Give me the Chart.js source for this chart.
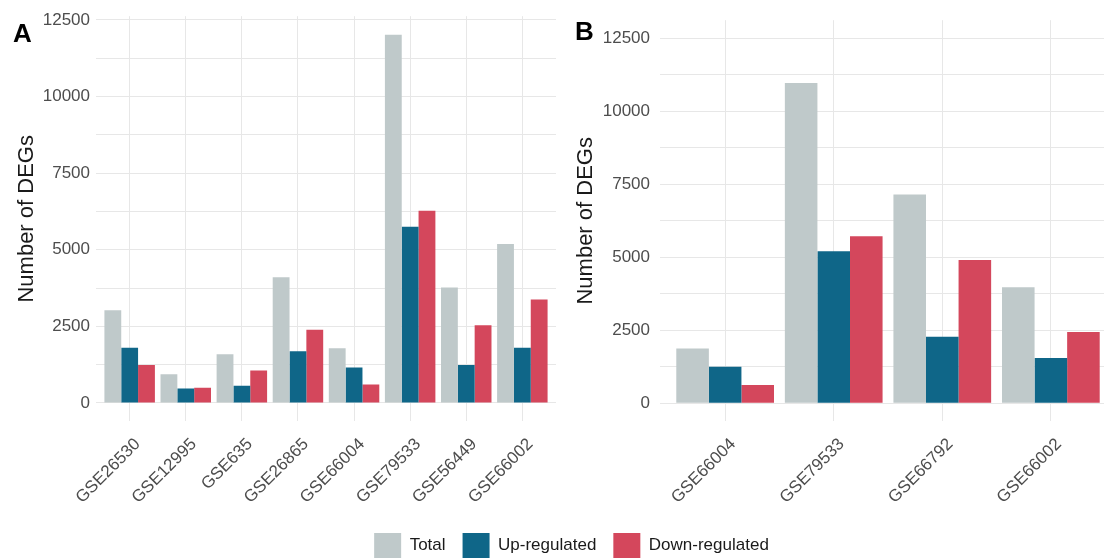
<!DOCTYPE html>
<html>
<head>
<meta charset="utf-8">
<title>Number of DEGs per dataset</title>
<script src="https://cdn.jsdelivr.net/npm/chart.js@4/dist/chart.umd.min.js"></script>
<style>
  html, body { margin: 0; padding: 0; background: #ffffff; }
  #fig { position: relative; width: 1104px; height: 560px; overflow: hidden; background: #ffffff; }
  #fig canvas { position: absolute; }
  .tag { position: absolute; font: bold 26px "Liberation Sans", Arial, sans-serif; line-height: 26px; color: #000; }
</style>
</head>
<body>
<div id="fig">
  <canvas id="panelA" width="560" height="560" style="left:0;top:0"></canvas>
  <canvas id="panelB" width="560" height="560" style="left:560px;top:0"></canvas>
  <canvas id="legendBar" width="1104" height="140" style="left:0;top:516px"></canvas>
  <div class="tag" style="left:13px;top:20px">A</div>
  <div class="tag" style="left:575px;top:18px">B</div>
</div>
<script>
// Series shared by both panels
const seriesNames = ['Total', 'Up-regulated', 'Down-regulated'];
const seriesColors = ['#bfc9ca', '#0f6688', '#d4475c'];

// Panel A: eight GEO datasets
const datasetsA = ['GSE26530', 'GSE12995', 'GSE635', 'GSE26865', 'GSE66004', 'GSE79533', 'GSE56449', 'GSE66002'];
const totalA = [3030, 940, 1590, 4100, 1790, 12020, 3770, 5190];
const upA    = [1800, 470,  560, 1690, 1160,  5750, 1240, 1800];
const downA  = [1240, 500, 1060, 2390,  600,  6270, 2540, 3380];

// Panel B: four GEO datasets
const datasetsB = ['GSE66004', 'GSE79533', 'GSE66792', 'GSE66002'];
const totalB = [1870, 10970, 7150, 3970];
const upB    = [1250,  5210, 2280, 1550];
const downB  = [ 620,  5720, 4910, 2440];

// Labelled y ticks; grid lines also sit half-way between them
const yTicks = [0, 2500, 5000, 7500, 10000, 12500];

const FONT = '"Liberation Sans", Arial, Helvetica, sans-serif';
const GRID = '#e7e7e7';
const TICK_COLOR = '#4d4d4d';

const gridValues = yTicks.flatMap((v, i) => i ? [(yTicks[i - 1] + v) / 2, v] : [v]);

function buildPanel(canvasId, cats, series, yMin, yMax, axisWidth, tickPad, titlePad) {
  return new Chart(document.getElementById(canvasId), {
    type: 'bar',
    data: {
      datasets: series.map((vals, k) => ({
        label: seriesNames[k],
        data: vals.map((v, i) => ({ x: i, y: v })),
        backgroundColor: seriesColors[k],
        borderWidth: 0,
        categoryPercentage: 0.9,
        barPercentage: 1.0
      }))
    },
    options: {
      responsive: false,
      animation: false,
      events: [],
      layout: { padding: { left: 0, right: 4, top: 16, bottom: 0 } },
      plugins: { legend: { display: false }, tooltip: { enabled: false } },
      scales: {
        x: {
          type: 'linear',
          min: -0.6,
          max: cats.length - 0.4,
          offset: false,
          afterBuildTicks: s => { s.ticks = cats.map((_, i) => ({ value: i })); },
          afterFit: s => { s.height = 560 - 421.4; },
          grid: { color: GRID, lineWidth: 1, drawTicks: false, offset: false },
          border: { display: false },
          ticks: {
            autoSkip: false,
            minRotation: 45,
            maxRotation: 45,
            padding: 13,
            labelOffset: 8,
            color: TICK_COLOR,
            font: { family: FONT, size: 17 },
            callback: v => cats[v]
          }
        },
        y: {
          min: yMin,
          max: yMax,
          afterBuildTicks: s => { s.ticks = gridValues.map(v => ({ value: v })); },
          afterFit: s => { s.width = axisWidth; },
          grid: { color: GRID, lineWidth: 1, drawTicks: false },
          border: { display: false },
          ticks: {
            padding: tickPad,
            color: TICK_COLOR,
            font: { family: FONT, size: 17 },
            callback: v => yTicks.includes(v) ? String(v) : ''
          },
          title: {
            display: true,
            text: 'Number of DEGs',
            color: '#1a1a1a',
            font: { family: FONT, size: 22 },
            padding: { top: titlePad, bottom: 0 }
          }
        }
      }
    }
  });
}

buildPanel('panelA', datasetsA, [totalA, upA, downA], -601, 12622, 96, 6, 14);
buildPanel('panelB', datasetsB, [totalB, upB, downB], -625, 13125, 100, 10, 13);

// Shared legend under both panels
new Chart(document.getElementById('legendBar'), {
  type: 'bar',
  data: {
    labels: [],
    datasets: seriesNames.map((name, k) => ({ label: name, data: [], backgroundColor: seriesColors[k], borderWidth: 0 }))
  },
  options: {
    responsive: false,
    animation: false,
    events: [],
    layout: { padding: { left: 39, right: 0, top: 0, bottom: 0 } },
    scales: { x: { display: false }, y: { display: false } },
    plugins: {
      tooltip: { enabled: false },
      legend: {
        display: true,
        position: 'top',
        labels: {
          boxWidth: 27,
          boxHeight: 25,
          padding: 17,
          color: '#1a1a1a',
          font: { family: FONT, size: 17 }
        }
      }
    }
  }
});
</script>
</body>
</html>
